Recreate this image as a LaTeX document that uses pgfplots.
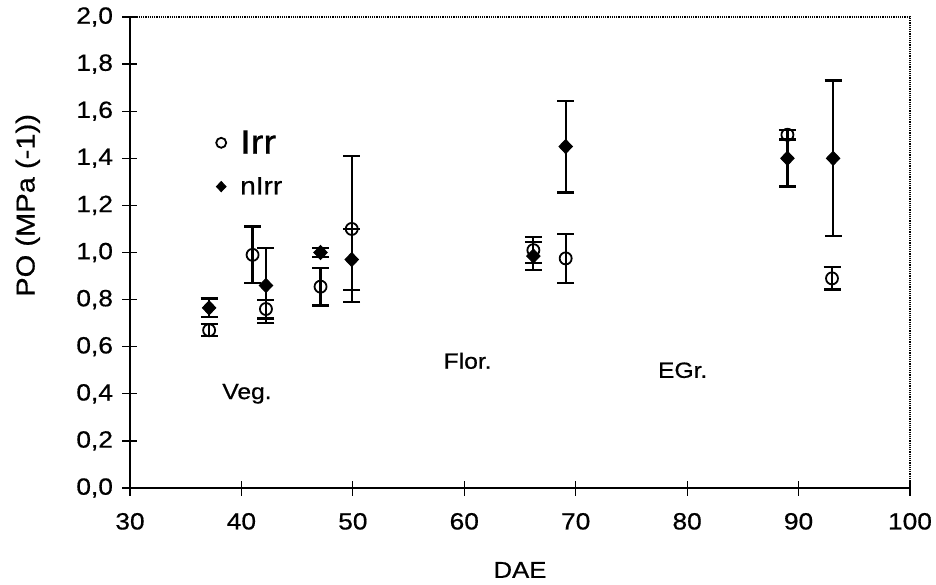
\documentclass[border=0pt]{standalone}
\usepackage{fontspec}
\setmainfont{Liberation Sans}[FakeStretch=1.12, FakeBold=0.6]
\usepackage{pgfplots}
\pgfplotsset{compat=1.18}
\pgfdeclareplotmark{sqdiamond}{%
  \pgfpathmoveto{\pgfqpoint{0pt}{\pgfplotmarksize}}%
  \pgfpathlineto{\pgfqpoint{0.95\pgfplotmarksize}{0pt}}%
  \pgfpathlineto{\pgfqpoint{0pt}{-\pgfplotmarksize}}%
  \pgfpathlineto{\pgfqpoint{-0.95\pgfplotmarksize}{0pt}}%
  \pgfpathclose\pgfusepathqfillstroke}
\begin{document}
\begin{tikzpicture}
\begin{axis}[
  at={(0,0)}, anchor=south west,
  scale only axis, width=780pt, height=471pt,
  xmin=30, xmax=100, ymin=0, ymax=2,
  xtick={30,40,50,60,70,80,90,100},
  ytick={0,0.2,0.4,0.6,0.8,1.0,1.2,1.4,1.6,1.8,2.0},
  axis x line*=bottom, axis y line*=left,
  axis line style={-, line width=1.4pt},
  tick align=center, major tick length=15pt,
  tick style={line width=1.2pt, black},
  /pgf/number format/assume math mode=true,
  yticklabel style={/pgf/number format/fixed, /pgf/number format/fixed zerofill,
    /pgf/number format/precision=1, /pgf/number format/use comma, xshift=-6pt},
  ticklabel style={font=\fontsize{23.5}{23.5}\selectfont},
  xticklabel style={yshift=-14pt},
  xlabel={DAE}, ylabel={PO (MPa (-1))},
  every axis x label/.style={at={(axis description cs:0.5,-0.174)}, anchor=center, font=\fontsize{23}{23}\selectfont},
  every axis y label/.style={at={(axis description cs:-0.131,0.60)}, anchor=center, rotate=90, font=\fontsize{26}{26}\selectfont},
  clip=false,
  legend style={draw=none, fill=none, at={(axis cs:37.72,1.528)}, anchor=north west,
    row sep=18pt, column sep=12pt, inner sep=0pt},
  legend cell align=left,
  legend image code/.code={\draw[#1, mark size=5pt, line width=1.6pt] plot coordinates {(0.3cm,0cm)};},
]
\addplot+[only marks, black, mark=o, mark size=6pt, line width=1.8pt,
  mark options={fill=white, line width=1.8pt},
  error bars/.cd, y dir=both, y explicit,
  error bar style={line width=2.2pt, black},
  error mark options={rotate=90, mark size=8.5pt, line width=2.2pt, black}]
  table[x=x, y=y, y error=e] {
x y e
37.1 0.67 0.025
41.0 0.99 0.12
42.2 0.76 0.04
47.1 0.855 0.08
49.9 1.10 0.31
66.2 1.01 0.055
69.1 0.975 0.105
89.0 1.50 0.02
93.0 0.89 0.047
};
\addlegendentry{\fontsize{34}{34}\selectfont Irr}
\addplot+[only marks, black, mark=sqdiamond, mark size=7pt,
  mark options={fill=black, line width=1pt},
  error bars/.cd, y dir=both, y explicit,
  error bar style={line width=2.2pt, black},
  error mark options={rotate=90, mark size=8.5pt, line width=2.2pt, black}]
  table[x=x, y=y, y error=e] {
x y e
37.1 0.765 0.04
42.2 0.86 0.16
47.1 1.00 0.02
49.9 0.97 0.13
66.2 0.985 0.06
69.1 1.45 0.195
89.0 1.40 0.12
93.1 1.40 0.33
};
\addlegendentry{\fontsize{25}{25}\selectfont nIrr}
\node[font=\fontsize{22}{22}\selectfont] at (axis cs:40.5,0.40) {Veg.};
\node[font=\fontsize{22}{22}\selectfont] at (axis cs:60.3,0.54) {Flor.};
\node[font=\fontsize{22}{22}\selectfont] at (axis cs:79.6,0.50) {EGr.};
\draw[line width=1.2pt, densely dotted] (axis description cs:0,1) -- (axis description cs:1,1) -- (axis description cs:1,0);
\end{axis}
\pgfresetboundingbox
\path[use as bounding box] (-130pt,-96pt) rectangle (806pt,488pt);
\end{tikzpicture}
\end{document}
